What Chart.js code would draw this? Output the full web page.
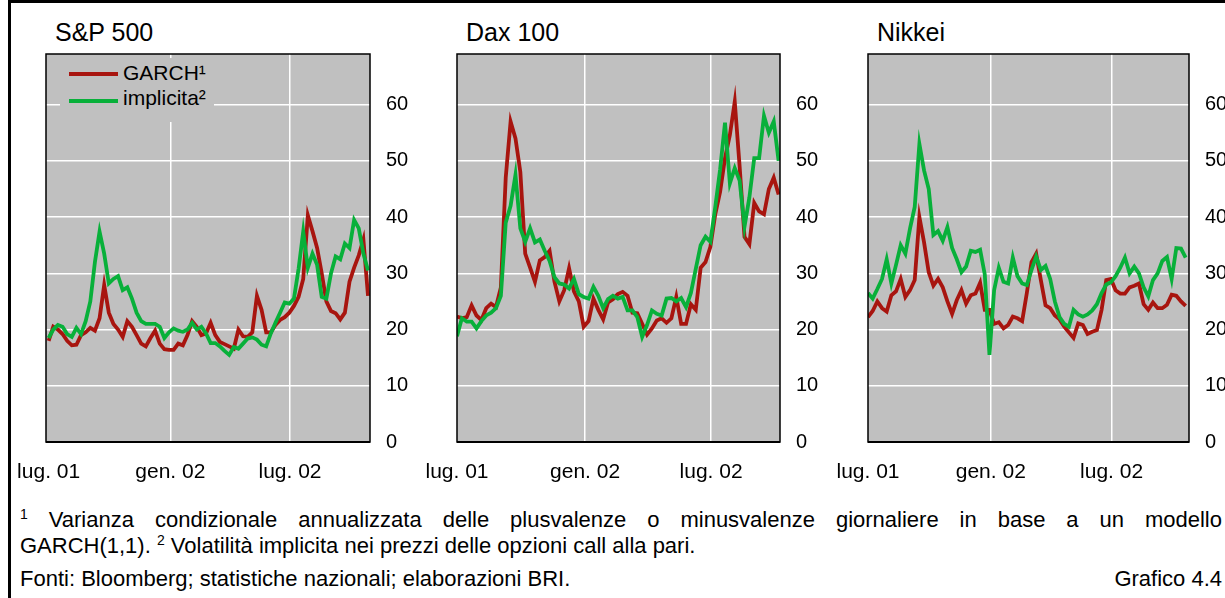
<!DOCTYPE html>
<html><head><meta charset="utf-8">
<script src="https://cdn.jsdelivr.net/npm/chart.js@4.4.1/dist/chart.umd.min.js"></script>
<style>
html,body{margin:0;padding:0;background:#fff;width:1225px;height:598px;overflow:hidden;font-family:"Liberation Sans",Arial,sans-serif;color:#000;}
#frame{position:absolute;left:8px;top:0;width:1400px;height:800px;border-left:3px solid #000;border-top:3px solid #000;box-sizing:border-box;}
.title{position:absolute;top:17px;font-size:25px;line-height:30px;white-space:nowrap;}
canvas{position:absolute;}
.legend{position:absolute;left:60px;top:58px;width:154px;height:64px;background:#c0c0c0;}
.legend .ln{position:absolute;left:9px;width:49px;height:4px;}
.legend .tx{position:absolute;left:63px;font-size:21px;line-height:24px;white-space:nowrap;}
.fn{position:absolute;left:20px;font-size:22px;line-height:26px;white-space:nowrap;}
.sup{font-size:14px;position:relative;top:-8px;}
#fn1{width:1202px;text-align:justify;text-align-last:justify;white-space:normal;}
</style>
</head><body>
<div id="frame"></div>
<div class="title" style="left:55px">S&amp;P 500</div>
<div class="title" style="left:466px">Dax 100</div>
<div class="title" style="left:877px">Nikkei</div>
<canvas id="c1" width="424" height="452" style="left:6px;top:40px"></canvas>
<canvas id="c2" width="423" height="452" style="left:417px;top:40px"></canvas>
<canvas id="c3" width="421" height="452" style="left:828px;top:40px"></canvas>
<div class="legend">
  <div class="ln" style="top:14px;background:#a8150f"></div>
  <div class="tx" style="top:3px">GARCH¹</div>
  <div class="ln" style="top:41px;background:#08b03a"></div>
  <div class="tx" style="top:28px">implicita²</div>
</div>
<div class="fn" id="fn1" style="top:507px"><span class="sup">1</span> Varianza condizionale annualizzata delle plusvalenze o minusvalenze giornaliere in base a un modello</div>
<div class="fn" style="top:533px">GARCH(1,1). <span class="sup">2</span> Volatilità implicita nei prezzi delle opzioni call alla pari.</div>
<div class="fn" style="top:566px">Fonti: Bloomberg; statistiche nazionali; elaborazioni BRI.</div>
<div class="fn" style="top:566px;left:auto;right:3px">Grafico 4.4</div>
<script>
// x values: days since 1 July 2001 (weekly observations)
const weekDays = [0,7,14,21,28,35,42,49,56,63,70,77,84,91,98,105,112,119,126,133,140,147,154,161,168,175,182,189,196,203,210,217,224,231,238,245,252,259,266,273,280,287,294,301,308,315,322,329,336,343,350,357,364,371,378,385,392,399,406,413,420,427,434,441,448,455,462,469,476,483];
const xTickDays = [0,184,365];
const xTickLabels = ['lug. 01','gen. 02','lug. 02'];
const yTickValues = [0,10,20,30,40,50,60];
const seriesNames = ['GARCH¹','implicita²'];

const spGarch = [18,20.5,20,19.2,18,17.2,17.3,19,19.5,20.3,19.8,22,27.9,23,21,20,18.7,21.5,20.5,19,17.5,17,18.5,19.8,17.5,16.5,16.4,16.4,17.5,17.2,19,21.5,20.5,19,19.3,21.2,19,17.8,17.4,17,16.6,20,18.8,18.7,19.5,26,23.5,19.5,19.5,20.8,21.7,22.2,23,24.2,25.8,29,40.3,37.5,34.5,30,25,23.3,22.9,21.8,23,28.5,31,33.2,36,26];
const spImpl = [18.5,20,20.8,20.5,19.2,18.7,20.3,19.2,21.5,25,32,37.4,33.5,28.2,29,29.5,27,27.5,25.5,23,21.5,21,21,21,20.5,18.5,19.5,20.2,19.8,19.6,20,21.2,20,20.5,19.3,17.6,17.6,17,16.2,15.5,16.9,16.6,17.5,18.4,18.6,18.2,17.3,17,19.3,21.2,23,24.8,24.6,25.5,30.8,37.4,31,33.5,31.5,25.8,25.5,30,33,32.5,35.3,34.5,39.5,38,33.5,30.5];

const daxGarch = [22.3,22,22.2,24.3,22.5,21.7,23.8,24.6,24,27.5,47,57,54,48,33.5,31,28.5,32.3,32.9,34,28.5,25,27,30.9,26.8,25,20.5,21.5,25.5,23.5,21.8,24.8,25.4,26.3,26.7,26,23,22.9,21,19.1,20.2,21.6,22,21.2,22,25.8,21,21,24.5,23.5,31,32,34.7,40.5,44.5,50.5,54.6,60.5,49,36.5,35.2,42.5,41,40.5,45,47,44];
const daxImpl = [18.8,22,21.4,21.4,20.2,21.5,22.5,23,23.8,26,39,42,47.5,38,35.6,38,35.5,36,34,32.2,29.3,28.2,28,27.3,29,26.3,25.8,25.5,27.6,26,23.8,25.4,26,25.5,25.8,23.4,23.4,22.2,18.7,20.8,23.4,22.8,22.5,25.5,25.6,25,25.6,24,26.5,30.8,35,36.5,35.6,41.8,48.5,56.8,46,48.7,46.5,38.3,43.5,50.5,50.5,58,55,57,50];

const nkGarch = [22.2,23.3,25,23.8,23.2,26.1,26.8,29,25.8,27,28.8,40,35.5,30.2,27.8,29,27.5,25,22.8,25.2,27,24.6,26.1,26.4,28.3,23.5,23.5,21,21.3,20.2,20.8,22.3,22,21.5,26.5,32,33.5,28.8,24.3,23.8,22.5,21.8,20.5,19.5,18.5,21.1,20.8,19.2,19.6,19.9,23.5,28.8,29,27,26.4,26.4,27.5,27.8,28.2,24.5,23.5,24.8,23.8,23.8,24.4,26.2,26,25,24.2];
const nkImpl = [26.5,25.5,27.2,29,32.5,28.2,31.5,35,33.5,38,41.8,53,48.3,45,36.8,37.5,35.8,38.2,34.5,32.5,30.2,31.2,34,33.8,34.2,29.8,15.5,27,31,28.5,28.2,32.8,29.5,28.2,27.9,30.6,33,30.6,31.3,29,25,22.2,21,20.5,23.5,22.7,22.3,22.7,23.4,24.5,26.5,28,28.4,29.5,31,32.8,30,31.2,30,27.5,25.9,28.8,30,32.2,32.9,29,34.5,34.4,32.8];

Chart.defaults.font.family = '"Liberation Sans", Arial, sans-serif';
Chart.defaults.color = '#000';

const panelPlugin = {
  id: 'panel',
  beforeDraw(chart) {
    const {ctx, chartArea: a} = chart;
    ctx.save();
    ctx.fillStyle = '#c0c0c0';
    ctx.fillRect(a.left, a.top, a.right - a.left, a.bottom - a.top);
    ctx.restore();
  },
  afterDraw(chart) {
    const {ctx, chartArea: a} = chart;
    ctx.save();
    ctx.strokeStyle = '#000';
    ctx.lineWidth = 1.5;
    ctx.strokeRect(a.left, a.top, a.right - a.left, a.bottom - a.top);
    ctx.lineWidth = 2;
    ctx.beginPath(); ctx.moveTo(a.left, a.bottom); ctx.lineTo(a.right, a.bottom); ctx.stroke();
    ctx.restore();
  }
};

function toPts(vals) { return vals.map((v, i) => ({x: weekDays[i], y: v})); }
const gridColor = c => (c.tick && c.tick.value === 0) ? 'rgba(0,0,0,0)' : '#ffffff';
function noPad(s) { s.paddingLeft = 0; s.paddingRight = 0; s.paddingTop = 0; s.paddingBottom = 0; }

function makeChart(id, garch, impl, xmin, xmax) {
  return new Chart(document.getElementById(id), {
    type: 'line',
    data: {
      datasets: [
        {label: seriesNames[1], data: toPts(impl), borderColor: '#08b03a', borderWidth: 3.8, pointRadius: 0, tension: 0},
        {label: seriesNames[0], data: toPts(garch), borderColor: '#a8150f', borderWidth: 3.8, pointRadius: 0, tension: 0}
      ]
    },
    options: {
      responsive: false,
      animation: false,
      layout: {padding: {left: 40, top: 14, right: 0, bottom: 0}},
      plugins: {legend: {display: false}, tooltip: {enabled: false}},
      scales: {
        x: {
          type: 'linear', min: xmin, max: xmax,
          afterBuildTicks: s => { s.ticks = xTickDays.map(v => ({value: v})); },
          afterFit: s => { s.height = 50; noPad(s); },
          grid: {color: gridColor, lineWidth: 1.5, drawTicks: false},
          border: {display: false},
          ticks: {autoSkip: false, maxRotation: 0, padding: 18, font: {size: 21}, color: '#000',
                  callback: v => xTickLabels[xTickDays.indexOf(v)]}
        },
        y: {
          position: 'right', min: 0, max: 69,
          afterBuildTicks: s => { s.ticks = yTickValues.map(v => ({value: v})); },
          afterFit: s => { s.width = 60; noPad(s); },
          grid: {color: gridColor, lineWidth: 1.5, drawTicks: false},
          border: {display: false},
          ticks: {padding: 16, font: {size: 20}, color: '#000'}
        }
      }
    },
    plugins: [panelPlugin]
  });
}

makeChart('c1', spGarch, spImpl, -4, 486);
makeChart('c2', daxGarch, daxImpl, 0, 464);
makeChart('c3', nkGarch, nkImpl, 0, 481);
</script>
</body></html>
